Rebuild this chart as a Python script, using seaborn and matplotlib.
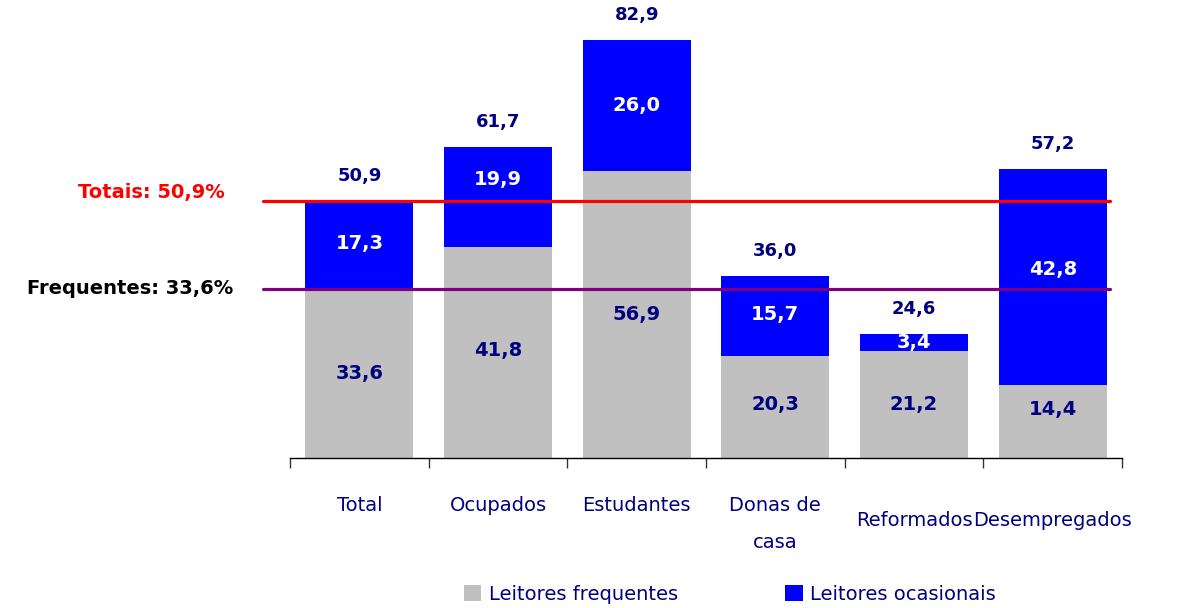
import numpy as np
import pandas as pd
import matplotlib
matplotlib.use('Agg')
import matplotlib.pyplot as plt
import matplotlib.transforms as mtransforms
from matplotlib.patches import Patch
import seaborn as sns

# data
categorias = ['Total', 'Ocupados', 'Estudantes', 'Donas de\ncasa', 'Reformados', 'Desempregados']
frequentes = [33.6, 41.8, 56.9, 20.3, 21.2, 14.4]
ocasionais = [17.3, 19.9, 26.0, 15.7, 3.4, 42.8]
totais = [50.9, 61.7, 82.9, 36.0, 24.6, 57.2]
ref_totais = 50.9
ref_frequentes = 33.6

sns.set_style('white')
plt.rcParams['font.family'] = ['DejaVu Sans']

df = pd.DataFrame({'cat': categorias, 'freq': frequentes, 'ocas': ocasionais, 'tot': totais})

fig = plt.figure(figsize=(11.77, 6.08), dpi=100)
ax = fig.add_axes([0.2464, 0.2467, 0.9533 - 0.2464, 0.9934 - 0.2467])

navy = '#000080'
blue = '#0000FF'
grey = '#C0C0C0'

# stacked bars: total in blue, frequent readers drawn on top in grey
sns.barplot(data=df, x='cat', y='tot', color=blue, width=0.78, saturation=1,
            linewidth=0, legend=False, ax=ax)
sns.barplot(data=df, x='cat', y='freq', color=grey, width=0.78, saturation=1,
            linewidth=0, legend=False, ax=ax)

ax.set_xlim(-0.5, len(categorias) - 0.5)
ax.set_ylim(0, 90)
ax.set_xlabel('')
ax.set_ylabel('')
ax.set_yticks([])
for s in ['top', 'right', 'left']:
    ax.spines[s].set_visible(False)
ax.spines['bottom'].set_color('black')
ax.spines['bottom'].set_linewidth(1)

# ticks between categories
ax.set_xticks(np.arange(-0.5, len(categorias)), labels=[''] * (len(categorias) + 1))
ax.tick_params(axis='x', direction='out', length=7, width=1, color='#333333', bottom=True)

# category labels (pixel rows of the first line)
tr = mtransforms.blended_transform_factory(ax.transData, fig.transFigure)
label_y = [505, 505, 505, 505, 520, 520]
for i, (c, yy) in enumerate(zip(categorias, label_y)):
    ax.text(i, 1 - (yy - 9) / 608, c, transform=tr, ha='center', va='top',
            fontsize=14, color=navy, linespacing=2.2)

# small nudges of the segment labels as placed in the original
nudge_freq = [0, 0.5, 0, 0.5, 0, 2.5]
nudge_ocas = [0.3, 3.4, 0, 0.3, 0, 1.5]

# value labels
for i in range(len(categorias)):
    f, o, t = frequentes[i], ocasionais[i], totais[i]
    ax.text(i, f / 2 + nudge_freq[i], f'{f:.1f}'.replace('.', ','), ha='center', va='center',
            fontsize=14, fontweight='bold', color=navy)
    ax.text(i, f + o / 2 + nudge_ocas[i], f'{o:.1f}'.replace('.', ','), ha='center', va='center',
            fontsize=14, fontweight='bold', color='white')
    ax.text(i, t + 5, f'{t:.1f}'.replace('.', ','), ha='center', va='center',
            fontsize=13, fontweight='bold', color=navy)

# reference lines
ax.plot([-0.695, 5.413], [ref_totais, ref_totais], color='#FF0000', lw=2.3, clip_on=False)
ax.plot([-0.695, 5.413], [ref_frequentes, ref_frequentes], color='#800080', lw=2.3, clip_on=False)
fig.text(225 / 1177, 1 - 193 / 608, 'Totais: 50,9%', ha='right', va='center',
         fontsize=14, fontweight='bold', color='#FF0000')
fig.text(233 / 1177, 1 - 289 / 608, 'Frequentes: 33,6%', ha='right', va='center',
         fontsize=14, fontweight='bold', color='black')

# legend
handles = [Patch(facecolor=grey, edgecolor='none'), Patch(facecolor=blue, edgecolor='none')]
leg = fig.legend(handles, ['Leitores frequentes', 'Leitores ocasionais'],
                 loc='center', bbox_to_anchor=(730 / 1177, 1 - 594 / 608), ncol=2,
                 frameon=False, fontsize=14, handlelength=0.9, handleheight=0.9,
                 handletextpad=0.4, columnspacing=5.5)
for t in leg.get_texts():
    t.set_color(navy)

fig.savefig('out.png', dpi=100)
